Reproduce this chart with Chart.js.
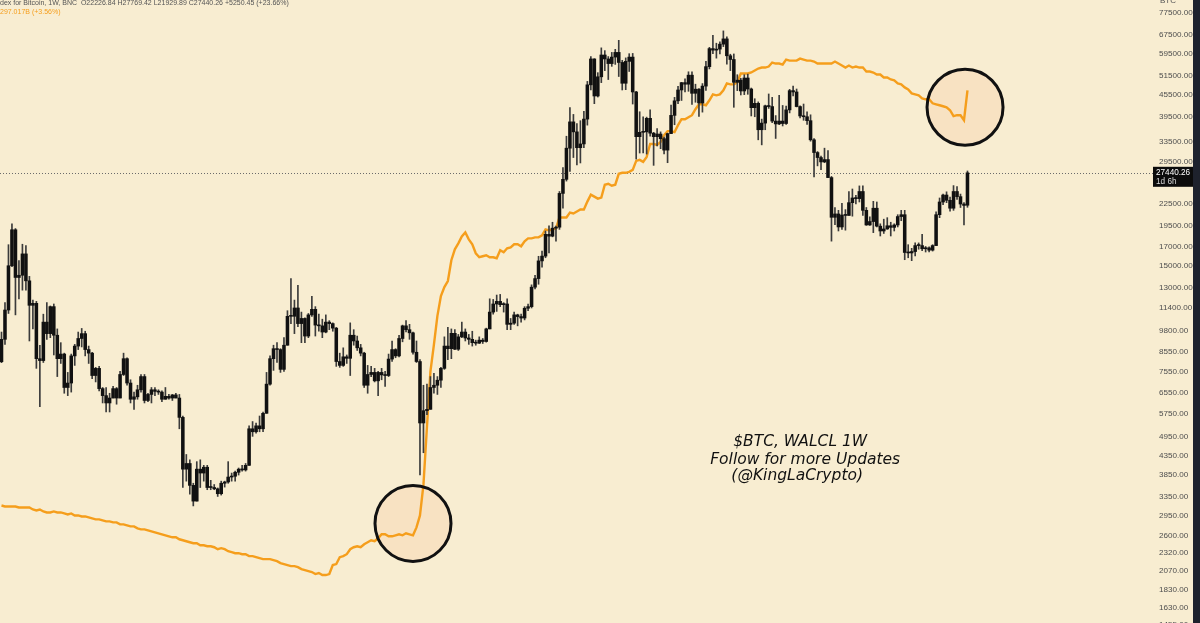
<!DOCTYPE html>
<html><head><meta charset="utf-8">
<script src="https://cdn.jsdelivr.net/npm/chart.js@4.4.1/dist/chart.umd.min.js"></script>
<style>
html,body{margin:0;padding:0;background:#F8EDD1;overflow:hidden;}
canvas{display:block;}
</style></head><body>
<canvas id="c" width="1200" height="623"></canvas>
<script>
// ---- weekly BTC (BNC index) candles, weeks starting 2017-11-20 ----
const firstWeek = '2017-11-20';
const btcOpen = [
8040,9300,11250,15000,18950,13900,14100,16200,13600,11600,
11750,8200,8100,10400,9650,11500,9550,8200,8450,6800,
7000,8350,8900,9350,9650,8700,8500,7350,7700,6750,
6450,6150,6350,6750,6350,7400,8200,7000,6300,6400,
6700,7300,6250,6500,6700,6630,6600,6300,6420,6350,
6480,6350,5600,4000,4150,3600,3250,4000,3900,4050,
3550,3550,3520,3410,3650,3680,3800,3820,3920,4000,
3980,4100,5200,5100,5300,5200,5750,6950,8200,8750,
8700,7650,8950,10800,10800,11400,10300,10650,9500,10900,
11300,10200,10150,9750,10400,10300,10000,8050,7850,8300,
8220,9550,9200,8800,8500,6900,7400,7500,7100,7500,
7380,7350,8180,8700,8350,9350,10150,9900,9700,8550,
8050,5400,5850,5900,6800,6900,7130,7700,8900,8750,
9670,8720,9450,9750,9380,9300,9100,9070,9250,9170,
9950,11100,11700,11900,11650,11700,10250,10330,10900,10780,
10680,11380,11500,13050,13800,15480,15970,18400,18180,19150,
19270,24000,26300,32200,38200,35800,32300,33100,38900,48600,
57500,45200,51200,59000,57500,55800,58200,60000,56200,49100,
56600,58200,46400,34700,35700,35800,39100,35500,34700,35300,
34250,31800,35400,39850,43800,47000,49300,48800,51750,46000,
47250,43200,48200,54700,61500,60900,61300,63300,65500,58700,
57300,49400,50100,46700,50800,47300,41900,43100,36300,37900,
42400,42200,38400,37700,38400,37800,41300,46800,46400,42200,
39700,39500,38500,34000,31300,30300,29450,29900,26600,20550,
21000,19300,20850,20800,22600,23300,23200,24300,21500,19550,
19990,21800,19400,18800,19050,19450,19250,19550,20650,20900,
16350,16300,16450,17100,17100,16750,16850,16600,17100,20900,
22700,23750,22950,21800,24300,23500,22400,22227];
const btcHigh = [
9750,11800,17200,19700,19100,15500,17250,17100,14000,12000,
11900,8950,10950,11800,11550,11700,9950,9100,8500,7500,
8450,9000,9750,9980,9800,8900,8550,7750,7800,6800,
6800,6550,6850,6800,7550,8500,8250,7150,6600,6900,
7400,7400,6550,6800,6800,6700,6650,6800,6500,6500,
6550,6500,5650,4400,4250,3650,4200,4250,4100,4100,
3720,3620,3540,3700,3700,4200,3900,3950,4030,4100,
4150,5300,5450,5400,5650,5800,7500,8350,8950,9100,
8750,9400,11200,13800,12000,13200,11100,10700,11000,12300,
11500,10950,10600,10900,10500,10350,10050,8500,8800,8400,
10350,9900,9500,9000,8550,7850,7800,7700,7550,7700,
7550,8450,9200,8750,9550,10200,10500,10250,9750,9200,
8150,6900,6950,7300,7450,7300,7750,9450,10050,9950,
9900,9600,10400,9950,9600,9800,9250,9450,9350,10000,
12100,12050,12400,12450,11800,12100,10650,11100,10950,10950,
11500,11700,13250,14100,15950,16500,18800,19450,19900,19400,
24300,28400,34800,41950,40100,37800,38500,40900,49700,58350,
57600,52600,61800,60700,58400,60000,61200,64900,57000,57900,
59500,59600,46600,40800,39500,39400,41300,35700,36600,35800,
34600,35500,42600,44800,48100,49400,50500,52900,52900,48800,
47400,49000,56600,62000,67000,63700,64300,69000,66400,59300,
59400,51900,50700,51900,52100,47600,44400,43500,38900,42600,
45800,44800,39800,45400,42500,42300,47200,48200,47300,42400,
42900,40800,40000,34300,31500,30600,32200,31700,26800,21900,
21500,22500,21600,24300,24700,23700,25200,25200,21900,20600,
22800,22700,19700,20300,20500,19900,19700,20900,21500,21500,
17200,16800,17400,17400,18400,17000,16950,17200,21300,23300,
23900,24250,23450,25250,25100,23900,22600,27769];
const btcLow = [
7990,9000,11000,14900,10900,12100,12800,12800,9200,9950,
7700,6000,8000,9300,9400,8400,7300,7950,6550,6450,
6600,7850,8700,8850,8350,7950,7200,7050,6650,6150,
5800,5800,6350,6100,6350,7350,6900,6150,5900,6300,
6600,6150,6200,6150,6450,6500,6200,6300,6300,6250,
6350,5200,3550,3700,3400,3150,3250,3550,3700,3500,
3500,3500,3350,3380,3560,3650,3700,3700,3850,3950,
3950,4100,4950,5050,5100,5100,5750,6900,7600,8000,
7500,7550,8950,10300,9650,10100,9100,9100,9400,10800,
9500,9800,9400,9700,9900,9800,7800,7750,7800,7950,
7350,8950,8650,8350,6800,6550,7300,7050,6450,7150,
6850,7300,8050,8250,8300,9150,9750,9300,8450,8000,
3850,4450,5700,5900,6550,6500,6800,7650,8150,8200,
8700,8650,9400,9200,9000,8900,8950,9050,9050,9130,
9950,10950,11150,11500,11100,9900,9900,10250,10150,10400,
10550,11200,11400,12900,13300,14850,15800,16300,18100,17600,
19000,21800,26000,27700,30300,28900,29250,32300,37400,47000,
43000,44900,49300,53300,50300,54800,55500,51300,47000,47100,
53000,42900,30000,31200,31200,31000,34800,28800,32700,32100,
31000,29300,35400,37500,43000,43900,46400,46600,42800,43400,
39600,40700,46900,53900,59500,57800,59400,62300,55600,53300,
42000,46800,45500,45600,45700,39700,39500,34000,32900,36300,
41700,38000,34300,37500,37200,37600,40500,45200,42100,39200,
38600,37600,33700,26700,28700,28000,29300,26600,17600,19600,
18800,19000,18900,20800,20700,22400,22700,20800,19500,19500,
18600,19300,18200,18500,19000,18200,18800,19300,20100,15600,
15800,15500,16000,16700,16550,16400,16400,16500,17100,20500,
22300,22600,21400,21500,23100,21900,19550,21930];
const btcClose = [
9300,11250,15000,18950,13900,14100,16200,13600,11600,11750,
8200,8100,10400,9650,11500,9550,8200,8450,6800,7000,
8350,8900,9350,9650,8700,8500,7350,7700,6750,6450,
6150,6350,6750,6350,7400,8200,7000,6300,6400,6700,
7300,6250,6500,6700,6630,6600,6300,6420,6350,6480,
6350,5600,4000,4150,3600,3250,4000,3900,4050,3550,
3550,3520,3410,3650,3680,3800,3820,3920,4000,3980,
4100,5200,5100,5300,5200,5750,6950,8200,8750,8700,
7650,8950,10800,10800,11400,10300,10650,9500,10900,11300,
10200,10150,9750,10400,10300,10000,8050,7850,8300,8220,
9550,9200,8800,8500,6900,7400,7500,7100,7500,7380,
7350,8180,8700,8350,9350,10150,9900,9700,8550,8050,
5400,5850,5900,6800,6900,7130,7700,8900,8750,9670,
8720,9450,9750,9380,9300,9100,9070,9250,9170,9950,
11100,11700,11900,11650,11700,10250,10330,10900,10780,10680,
11380,11500,13050,13800,15480,15970,18400,18180,19150,19270,
24000,26300,32200,38200,35800,32300,33100,38900,48600,57500,
45200,51200,59000,57500,55800,58200,60000,56200,49100,56600,
58200,46400,34700,35700,35800,39100,35500,34700,35300,34250,
31800,35400,39850,43800,47000,49300,48800,51750,46000,47250,
43200,48200,54700,61500,60900,61300,63300,65500,58700,57300,
49400,50100,46700,50800,47300,41900,43100,36300,37900,42400,
42200,38400,37700,38400,37800,41300,46800,46400,42200,39700,
39500,38500,34000,31300,30300,29450,29900,26600,20550,21000,
19300,20850,20800,22600,23300,23200,24300,21500,19550,19990,
21800,19400,18800,19050,19450,19250,19550,20650,20900,16350,
16300,16450,17100,17100,16750,16850,16600,17100,20900,22700,
23750,22950,21800,24300,23500,22400,22200,27440.26];
// ---- Fed balance sheet WALCL, trillions USD, same weeks ----
const walcl = [
4.46,4.45,4.45,4.45,4.45,4.44,4.44,4.44,4.44,4.42,
4.41,4.42,4.40,4.39,4.39,4.40,4.39,4.39,4.38,4.37,
4.38,4.36,4.36,4.35,4.35,4.34,4.33,4.32,4.32,4.31,
4.30,4.30,4.29,4.29,4.27,4.27,4.26,4.25,4.25,4.23,
4.22,4.22,4.21,4.20,4.19,4.18,4.17,4.16,4.15,4.14,
4.14,4.12,4.11,4.10,4.09,4.08,4.08,4.06,4.06,4.05,
4.05,4.04,4.02,4.03,4.02,4.00,3.99,3.98,3.98,3.97,
3.97,3.95,3.95,3.94,3.93,3.92,3.92,3.92,3.91,3.90,
3.88,3.87,3.86,3.85,3.85,3.84,3.82,3.81,3.80,3.79,
3.77,3.78,3.76,3.76,3.77,3.86,3.87,3.94,3.95,3.97,
4.02,4.04,4.05,4.04,4.07,4.09,4.11,4.10,4.13,4.17,
4.17,4.15,4.15,4.16,4.17,4.16,4.18,4.17,4.16,4.24,
4.36,4.67,5.25,5.81,6.08,6.37,6.57,6.66,6.72,6.93,
7.04,7.10,7.17,7.21,7.14,7.09,7.00,6.96,6.97,6.98,
6.96,6.96,6.95,7.03,7.01,7.05,7.06,7.09,7.09,7.07,
7.12,7.15,7.15,7.16,7.16,7.18,7.24,7.23,7.24,7.25,
7.36,7.36,7.36,7.41,7.40,7.42,7.44,7.44,7.52,7.59,
7.57,7.55,7.56,7.69,7.70,7.68,7.69,7.80,7.81,7.81,
7.82,7.84,7.93,7.94,7.92,7.97,8.10,8.10,8.09,8.12,
8.19,8.23,8.23,8.22,8.29,8.35,8.35,8.37,8.39,8.45,
8.50,8.50,8.49,8.54,8.60,8.59,8.60,8.64,8.71,8.70,
8.70,8.72,8.81,8.81,8.81,8.82,8.84,8.86,8.87,8.87,
8.88,8.92,8.91,8.91,8.90,8.95,8.94,8.94,8.94,8.96,
8.95,8.94,8.94,8.93,8.91,8.91,8.91,8.91,8.91,8.93,
8.91,8.89,8.87,8.89,8.87,8.88,8.87,8.87,8.83,8.83,
8.82,8.80,8.80,8.77,8.77,8.75,8.74,8.71,8.70,8.67,
8.65,8.61,8.60,8.59,8.56,8.55,8.55,8.51,8.50,8.49,
8.48,8.47,8.44,8.38,8.39,8.39,8.34,8.64];
// ---- right price axis ticks ----
const priceTicks = [77500,67500,59500,51500,45500,39500,33500,29500,25500,22500,19500,17000,15000,13000,11400,
  9800,8550,7550,6550,5750,4950,4350,3850,3350,2950,2600,2320,2070,1830,1630,1455];
// ---- texts ----
const headerLine1 = 'dex for Bitcoin, 1W, BNC  O22226.84 H27769.42 L21929.89 C27440.26 +5250.45 (+23.66%)';
const headerLine2 = '297.017B (+3.56%)';
const noteLines = ['$BTC, WALCL 1W', 'Follow for more Updates', '(@KingLaCrypto)'];
const lastPriceLabel = '27440.26';
const countdownLabel = '1d 6h';
// annotation anchors (week index, WALCL value in trillions)
const circleWeek = [118, 276.3];
const circleWalcl = [4.28, 8.47];
const noteWeek = 229.6, notePrice = 4250;

const BG = '#F8EDD1';
const ORANGE = '#F59E1C';
const N = btcClose.length;

const bodyData = btcOpen.map((o,i)=>({x:i, y:[Math.min(o,btcClose[i]), Math.max(o,btcClose[i])]}));
const wickData = btcHigh.map((h,i)=>({x:i, y:[btcLow[i], h]}));
const walclData = walcl.map((v,i)=>({x:i, y:v}));

const overlay = {
  id:'overlay',
  beforeDraw(chart){
    const c = chart.ctx;
    c.save();
    c.fillStyle = BG; c.fillRect(0,0,chart.width,chart.height);
    c.fillStyle = '#1E222D'; c.fillRect(1193,0,chart.width-1193,chart.height);
    c.restore();
  },
  beforeDatasetsDraw(chart){
    const {ctx, chartArea:a, scales} = chart;
    const py = Math.round(scales.y.getPixelForValue(btcClose[N-1])) + 0.5;
    ctx.save();
    ctx.strokeStyle = '#6b6b6b'; ctx.lineWidth = 1; ctx.setLineDash([1,2]);
    ctx.beginPath(); ctx.moveTo(a.left, py); ctx.lineTo(a.right, py); ctx.stroke();
    ctx.setLineDash([]);
    for (let k=0;k<circleWeek.length;k++){
      const cx = scales.x.getPixelForValue(circleWeek[k]);
      const cy = scales.y2.getPixelForValue(circleWalcl[k]);
      ctx.beginPath(); ctx.arc(cx, cy, 38, 0, Math.PI*2);
      ctx.fillStyle = 'rgba(246,196,150,0.26)'; ctx.fill();
    }
    ctx.restore();
  },
  afterDatasetsDraw(chart){
    const {ctx, scales} = chart;
    ctx.save();
    for (let k=0;k<circleWeek.length;k++){
      const cx = scales.x.getPixelForValue(circleWeek[k]);
      const cy = scales.y2.getPixelForValue(circleWalcl[k]);
      ctx.beginPath(); ctx.arc(cx, cy, 38, 0, Math.PI*2);
      ctx.strokeStyle = '#111'; ctx.lineWidth = 3; ctx.stroke();
    }
    const nx = scales.x.getPixelForValue(noteWeek);
    const ny = scales.y.getPixelForValue(notePrice);
    ctx.fillStyle = '#111';
    ctx.font = "italic 15.5px 'DejaVu Sans'";
    ctx.textAlign = 'center'; ctx.textBaseline = 'middle';
    ctx.fillText(noteLines[0], nx-2, ny-18);
    ctx.fillText(noteLines[1], nx+3, ny);
    ctx.fillText(noteLines[2], nx-5, ny+16);
    ctx.restore();
  },
  afterDraw(chart){
    const {ctx, scales} = chart;
    ctx.save();
    ctx.textAlign = 'left'; ctx.textBaseline = 'middle';
    ctx.font = "7px 'Liberation Sans'";
    ctx.fillStyle = '#555';
    ctx.fillText(headerLine1, 0, 3.5);
    ctx.fillStyle = ORANGE;
    ctx.fillText(headerLine2, 0, 12);
    ctx.fillStyle = '#555';
    ctx.font = "8px 'Liberation Sans'";
    ctx.fillText('BTC', 1160, 1);
    const py = scales.y.getPixelForValue(btcClose[N-1]);
    ctx.fillStyle = '#0c0c0c';
    ctx.fillRect(1153, py-6, 40, 20);
    ctx.fillStyle = '#ffffff';
    ctx.font = "8.2px 'Liberation Sans'";
    ctx.fillText(lastPriceLabel, 1156, py);
    ctx.fillStyle = '#d8d8d8';
    ctx.fillText(countdownLabel, 1156, py+8.5);
    ctx.restore();
  }
};

new Chart(document.getElementById('c'), {
  type:'bar',
  data:{datasets:[
    {type:'bar', label:'BTC body', data:bodyData, backgroundColor:'#111111', borderWidth:0,
     barThickness:2.9, minBarLength:1, grouped:false, order:0, yAxisID:'y'},
    {type:'bar', label:'BTC wick', data:wickData, backgroundColor:'#3b3b3b', borderWidth:0,
     barThickness:1, grouped:false, order:1, yAxisID:'y'},
    {type:'line', label:'WALCL', data:walclData, borderColor:ORANGE, borderWidth:2.4,
     pointRadius:0, tension:0, yAxisID:'y2', order:2}
  ]},
  options:{
    responsive:false, animation:false, devicePixelRatio:1,
    layout:{padding:0},
    plugins:{legend:{display:false}, tooltip:{enabled:false}},
    scales:{
      x:{type:'linear', min:-0.43, max:330.2, display:false, offset:false},
      y:{type:'logarithmic', position:'right', min:1472, max:84340,
         grid:{display:false, drawTicks:false}, border:{display:false},
         ticks:{autoSkip:false, padding:6, color:'#4e4e4e', font:{family:'Liberation Sans', size:8.1},
                callback:(v)=>Number(v).toFixed(2)},
         afterBuildTicks:(s)=>{ s.ticks = priceTicks.map(v=>({value:v})); },
         afterFit:(s)=>{ s.width = 47; s.paddingTop=0; s.paddingBottom=0; s.paddingLeft=0; s.paddingRight=0; }},
      y2:{type:'linear', display:false, min:3.277, max:9.55}
    }
  },
  plugins:[overlay]
});
</script>
</body></html>
